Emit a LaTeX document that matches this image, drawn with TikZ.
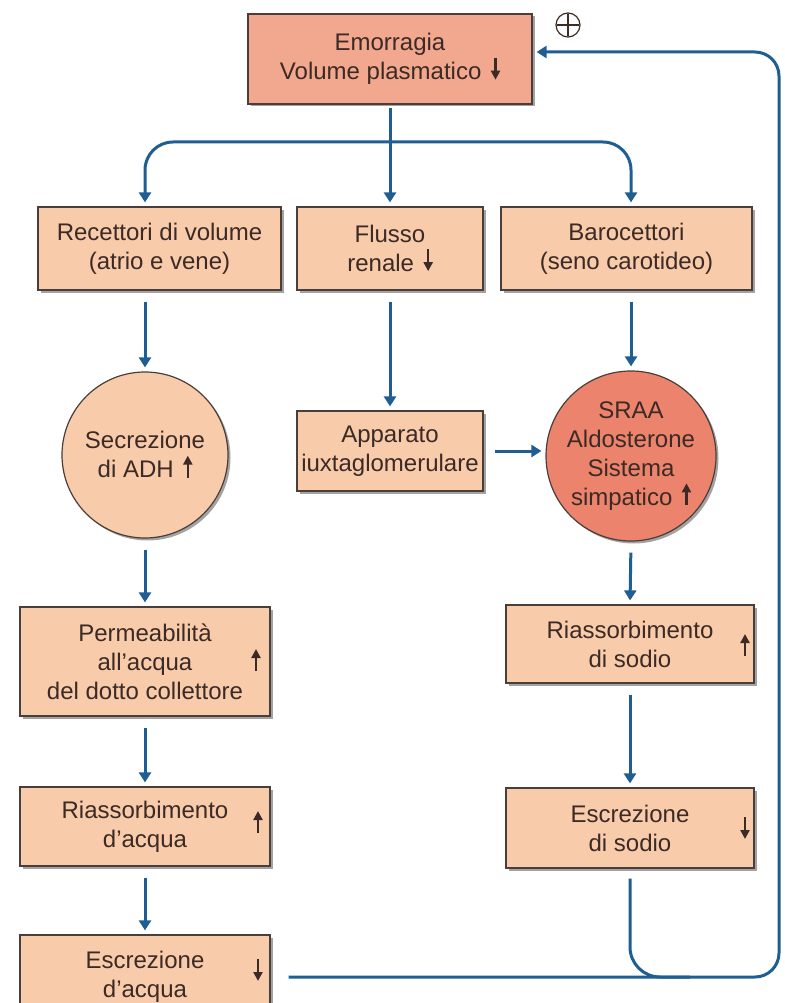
\documentclass[tikz,border=0pt]{standalone}
\usepackage{fontspec}
\setmainfont{Liberation Sans}
\usetikzlibrary{arrows.meta,shadows}
\definecolor{peach}{HTML}{F8CBAA}
\definecolor{salmon}{HTML}{F2A88E}
\definecolor{coral}{HTML}{EC846D}
\definecolor{edge}{HTML}{4A3E3A}
\definecolor{ink}{HTML}{3B2A25}
\definecolor{flowblue}{HTML}{1F5E92}
% small filled-head arrows used inside the labels
\newcommand\uparr{\tikz[baseline=-4pt,x=1pt,y=1pt]\draw[ink,line width=2.2pt,-{Triangle[width=9pt,length=9pt]}] (0,-4) -- (0,18);}
\newcommand\downarr{\tikz[baseline=-4pt,x=1pt,y=1pt]\draw[ink,line width=2.2pt,-{Triangle[width=9pt,length=9pt]}] (0,18) -- (0,-4);}
\begin{document}
\begin{tikzpicture}[x=1pt,y=-1pt,
  every node/.style={text=ink, font=\fontsize{24}{29}\selectfont},
  shade/.style={drop shadow={shadow xshift=2.5pt,shadow yshift=-2.5pt,fill=black!65,opacity=0.55}},
  box/.style={draw=edge, line width=1.2pt, fill=peach, align=center, inner sep=0pt, shade},
  bubble/.style={circle, draw=edge, line width=1.2pt, fill=peach, align=center, inner sep=0pt, shade},
  flow/.style={draw=flowblue, line width=3pt, -{Triangle[width=12pt,length=10pt]}, shorten <=11pt, shorten >=4pt},
  rail/.style={draw=flowblue, line width=3pt},
  arrowsign/.style={inner sep=0pt}
]
\useasboundingbox (0,0) rectangle (784,1003);
\fill[white] (0,0) rectangle (784,1003);

% trigger
\node[box, fill=salmon, minimum width=284, minimum height=90] (bleed) at (390,59)
  {Emorragia\\Volume plasmatico\hspace{0.4em}\downarr};
\node[circle, draw=ink, line width=1.2pt, minimum size=24pt, inner sep=0pt] (plus) at (568,25) {};
\draw[ink, line width=1.2pt] ([yshift=-2pt]plus.north) -- ([yshift=2pt]plus.south)
  ([xshift=2pt]plus.west) -- ([xshift=-2pt]plus.east);

% sensors
\node[box, minimum width=243, minimum height=83] (vol) at (159.5,248.5) {Recettori di volume\\(atrio e vene)};
\node[box, minimum width=186, minimum height=83] (renal) at (390,248.5) {Flusso\\renale\hspace{0.4em}\downarr};
\node[box, minimum width=251, minimum height=83] (baro) at (626.5,248.5) {Barocettori\\(seno carotideo)};

% mediators
\node[bubble, minimum size=166] (adh) at (145,455) {Secrezione\\di ADH\hspace{0.4em}\uparr};
\node[box, minimum width=186, minimum height=80] (jga) at (390,451) {Apparato\\iuxtaglomerulare};
\node[bubble, fill=coral, minimum size=170] (raas) at (631,456) {SRAA\\Aldosterone\\Sistema\\simpatico\hspace{0.4em}\uparr};

% water branch
\node[box, minimum width=250, minimum height=109] (perm) at (145,661.5) {Permeabilità\\all’acqua\\del dotto collettore};
\node[arrowsign] (permup) at (256,660) {\uparr};
\node[box, minimum width=250, minimum height=79] (reabsW) at (145,826.5) {Riassorbimento\\d’acqua};
\node[arrowsign] (reabsWup) at (258,822) {\uparr};
\node[box, minimum width=250, minimum height=84] (excW) at (145,977) {Escrezione\\d’acqua};
\node[arrowsign] (excWdown) at (258,970) {\downarr};

% sodium branch
\node[box, minimum width=248, minimum height=78] (reabsNa) at (630,644) {Riassorbimento\\di sodio};
\node[arrowsign] (reabsNaup) at (745,645) {\uparr};
\node[box, minimum width=248, minimum height=80] (excNa) at (630,828) {Escrezione\\di sodio};
\node[arrowsign] (excNadown) at (745,828) {\downarr};

% fan-out from the trigger
\coordinate (split) at (390,142);
\draw[flow, shorten <=3pt] (bleed.south) -- (renal.north);
\draw[flow, shorten <=0pt, rounded corners=28pt] (split) -| (adh.north |- vol.north);
\draw[flow, shorten <=0pt, rounded corners=28pt] (split) -| (raas.north |- baro.north);

% vertical chains
\draw[flow] (adh.north |- vol.south) -- (adh.north);
\draw[flow] (adh.south) -- (perm.north);
\draw[flow] (perm.south) -- (reabsW.north);
\draw[flow] (reabsW.south) -- (excW.north);
\draw[flow] (renal.south) -- (jga.north);
\draw[flow] (jga.east) -- (jga.east -| raas.west);
\draw[flow] (raas.north |- baro.south) -- (raas.north);
\draw[flow] (raas.south) -- (reabsNa.north);
\draw[flow] (reabsNa.south) -- (excNa.north);

% feedback loop
\coordinate (br) at (779,977);
\coordinate (tr) at (779,52);
\coordinate (merge) at (690,977);
\draw[flow, shorten <=18pt, rounded corners=24pt] (excW.east) -- (br) -- (tr) -- ([yshift=7pt]bleed.east);
\draw[rail, shorten <=10pt, rounded corners=30pt] (excNa.south) -- (excNa.south |- br) -- (merge);
\end{tikzpicture}
\end{document}
